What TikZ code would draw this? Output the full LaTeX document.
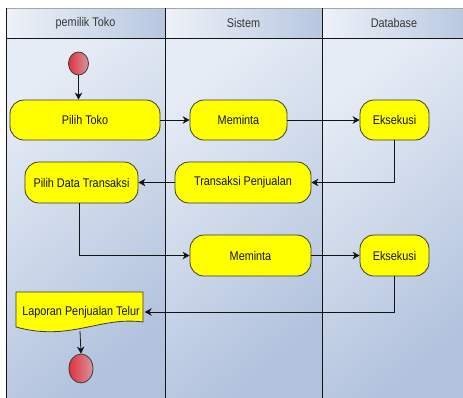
\documentclass[tikz,border=0pt]{standalone}
\usepackage{fontspec}
\setmainfont[FakeStretch=0.86]{Liberation Sans}
\usetikzlibrary{arrows.meta,shapes.geometric,calc}

\definecolor{lanelight}{HTML}{E6ECF5}
\definecolor{lanedark}{HTML}{B1C2DD}
\definecolor{headlight}{HTML}{EEF2F8}
\definecolor{headdark}{HTML}{B7C7E0}
\definecolor{actfill}{HTML}{FFFF00}
\definecolor{actline}{HTML}{3A3A3A}
\definecolor{redA}{HTML}{E2303F}
\definecolor{redB}{HTML}{D7959E}
\definecolor{txt}{HTML}{141414}

\tikzset{
  lane/.style={top color=lanelight, bottom color=lanedark, shading angle=40},
  headcell/.style={left color=headlight, right color=headdark},
  action/.style={draw=actline, line width=0.8pt, fill=actfill, rounded corners=14pt,
    text=txt, font=\fontsize{12.6}{14}\selectfont, inner sep=0pt},
  terminal/.style={ellipse, draw=actline, line width=0.8pt, left color=redA, right color=redB, inner sep=0pt},
  flow/.style={draw=txt, line width=0.8pt, -{Stealth[length=7pt,width=7.5pt,inset=2.2pt]}},
  lanehead/.style={text=txt!85, font=\fontsize{12.6}{14}\selectfont}
}

\begin{document}
\begin{tikzpicture}[x=1pt,y=-1pt]
\useasboundingbox (0,0) rectangle (463,397);

% swimlane bodies
\shade[lane] (6,38) rectangle (165,400);
\shade[lane] (165,38) rectangle (322,400);
\shade[lane] (322,38) rectangle (470,400);

% swimlane headers
\shade[headcell] (6,8) rectangle (165,38);
\shade[headcell] (165,8) rectangle (322,38);
\shade[headcell] (322,8) rectangle (470,38);

\node[lanehead] (h1) at (85.5,23) {pemilik Toko};
\node[lanehead] (h2) at (243.5,23) {Sistem};
\node[lanehead] (h3) at (394,23) {Database};

% frame and lane separators
\draw[gray!70, line width=0.7pt] (6,8) -- (470,8);
\draw[txt, line width=0.8pt] (6,8) -- (6,400);
\draw[txt, line width=0.8pt] (6,38) -- (470,38);
\draw[txt, line width=0.8pt] (165,8) -- (165,400);
\draw[txt, line width=0.8pt] (322,8) -- (322,400);

% start and end
\node[terminal, minimum width=20pt, minimum height=23pt] (start) at (78.5,63.5) {};
\node[terminal, minimum width=24pt, minimum height=29pt] (stop) at (81,368.5) {};

% actions
\node[action, minimum width=150pt, minimum height=40pt] (pilihtoko) at (85,120) {Pilih Toko};
\node[action, minimum width=97pt, minimum height=40pt] (minta1) at (238.5,120) {Meminta};
\node[action, minimum width=69pt, minimum height=40pt] (eks1) at (394.5,120) {Eksekusi};
\node[action, minimum width=113pt, minimum height=41pt] (pilihdata) at (81.5,182.5) {Pilih Data Transaksi};
\node[action, minimum width=136pt, minimum height=41pt] (transaksi) at (243,182.5) {Transaksi Penjualan};
\node[action, minimum width=121pt, minimum height=41pt] (minta2) at (250.5,255.5) {Meminta};
\node[action, minimum width=69pt, minimum height=41pt] (eks2) at (394.5,255.5) {Eksekusi};

% report document
\draw[actline, line width=0.8pt, fill=actfill]
  (16,292) -- (143,292) -- (143,322)
  .. controls (100,316) and (70,342) .. (16,327) -- cycle;
\node[text=txt, font=\fontsize{12.6}{14}\selectfont, minimum width=127pt, minimum height=38pt, inner sep=0pt]
  (laporan) at (81,312) {Laporan Penjualan Telur};
\coordinate (lapbottom) at (80,331);

% control flow
\draw[flow] (start.south) -- (start.south |- pilihtoko.north);
\draw[flow] (pilihtoko) -- (minta1);
\draw[flow] (minta1) -- (eks1);
\draw[flow] (eks1.south) |- (transaksi.east);
\draw[flow] (transaksi) -- (pilihdata);
\draw[flow] ([xshift=-2pt]pilihdata.south) |- (minta2.west);
\draw[flow] (minta2) -- (eks2);
\draw[flow] (eks2.south) |- (laporan.east);
\draw[flow] (lapbottom) -- (stop.north);
\end{tikzpicture}
\end{document}
